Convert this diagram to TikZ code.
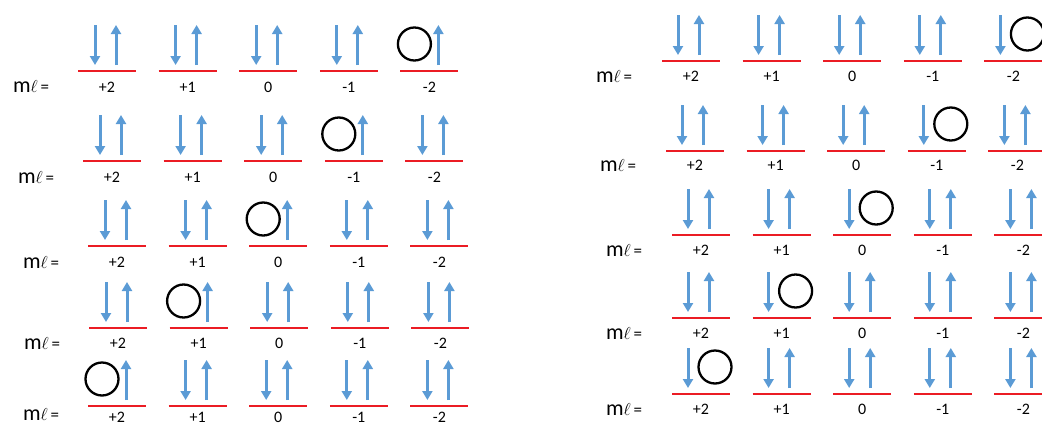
\documentclass[tikz,border=0pt]{standalone}
\usepackage{fontspec}
\setmainfont{Carlito}
\usetikzlibrary{arrows.meta,positioning}
\definecolor{spinblue}{RGB}{91,155,213}
\definecolor{levelred}{RGB}{235,28,36}

\begin{document}
\begin{tikzpicture}[
  x=1pt, y=-1pt,
  level/.style={draw=levelred, line width=2.2pt},
  spin/.style={draw=spinblue, line width=3pt, -{Triangle[width=10pt,length=9pt]}},
  hole/.style={circle, draw=black, line width=2.3pt, minimum size=33pt, inner sep=0pt},
  mval/.style={font=\fontsize{16}{16}\selectfont, inner sep=0pt},
  rowlab/.style={inner sep=0pt}
]
  \clip (0,0) rectangle (1042,426);
  % left set: the hole takes the place of the down spin
  \foreach \r/\x/\y/\t/\l/\h in {1/78/71/16/15/4, 2/83/161/16/16/3, 3/88/246/16/16/2, 4/89/328/15/15/1, 5/88/406/11/8/0} {
    \node[rowlab] (mlL\r) at (\x-47,\y+\l) {\fontsize{22}{22}\selectfont m\fontsize{17}{17}\selectfont$\ell$\,=};
    \foreach \m [count=\c from 0] in {+2,+1,0,-1,-2} {
      \coordinate (lvL\r\c) at (\x+\c*80.6,\y);
      \draw[level] (lvL\r\c) -- ++(58,0);
      \node[mval] (valL\r\c) at (\x+\c*80.6+29,\y+\t) {\m};
      \ifnum\c=\h
        \node[hole] (hoL\r) at (\x+\c*80.6+14,\y-27) {};
      \else
        \draw[spin] (\x+\c*80.6+17,\y-46) -- (\x+\c*80.6+17,\y-6);
      \fi
      \draw[spin] (\x+\c*80.6+38,\y-6) -- (\x+\c*80.6+38,\y-46);
    }
  }
  % right set: the hole takes the place of the up spin
  \foreach \r/\x/\y/\t/\h in {1/662/61/15/4, 2/666/151/14/3, 3/672/235/15/2, 4/672/318/15/1, 5/672/394/15/0} {
    \node[rowlab] (mlR\r) at (\x-48,\y+\t) {\fontsize{22}{22}\selectfont m\fontsize{17}{17}\selectfont$\ell$\,=};
    \foreach \m [count=\c from 0] in {+2,+1,0,-1,-2} {
      \coordinate (lvR\r\c) at (\x+\c*80.6,\y);
      \draw[level] (lvR\r\c) -- ++(58,0);
      \node[mval] (valR\r\c) at (\x+\c*80.6+29,\y+\t) {\m};
      \draw[spin] (\x+\c*80.6+16,\y-46) -- (\x+\c*80.6+16,\y-6);
      \ifnum\c=\h
        \node[hole] (hoR\r) at (\x+\c*80.6+43,\y-27) {};
      \else
        \draw[spin] (\x+\c*80.6+37,\y-6) -- (\x+\c*80.6+37,\y-46);
      \fi
    }
  }
\end{tikzpicture}
\end{document}
